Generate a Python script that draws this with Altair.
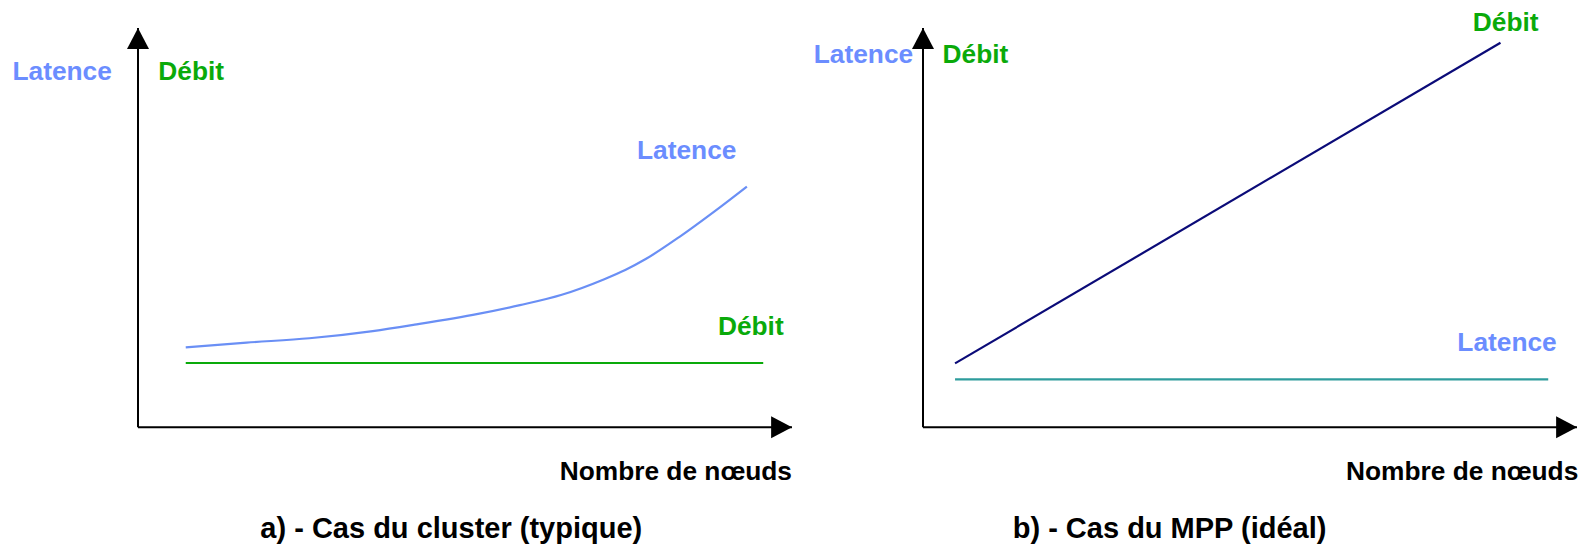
import altair as alt
import pandas as pd

FONT = "Liberation Sans"

# ---------------- data (relative units) ----------------
axis_x = [0, 10]          # x extent: nombre de nœuds
axis_y = [0, 10]          # y extent: latence / débit

# a) Cas du cluster (typique)
a_latence_x = [0.73, 1.66, 2.62, 3.59, 4.23, 5.20, 5.84, 6.48, 7.13, 7.45, 7.77, 8.28, 8.80, 9.31]
a_latence_y = [2.00, 2.12, 2.23, 2.41, 2.57, 2.84, 3.06, 3.32, 3.71, 3.94, 4.22, 4.77, 5.39, 6.03]
a_debit_x = [0.73, 9.56]
a_debit_y = [1.61, 1.61]

# b) Cas du MPP (idéal)
b_debit_x = [0.49, 8.83]
b_debit_y = [1.60, 9.63]
b_latence_x = [0.49, 9.56]
b_latence_y = [1.20, 1.20]

# texts
lbl_latence = "Latence"
lbl_debit = "Débit"
x_title = "Nombre de nœuds"
panel_titles = ["a) - Cas du cluster (typique)", "b) - Cas du MPP (idéal)"]

# annotation anchors in data units: [x, y]
a_ylab_lat = [-0.40, 8.91]
a_ylab_deb = [0.31, 8.91]
a_ann_lat = [8.39, 6.92]
a_ann_deb = [9.37, 2.52]
a_xtitle = [10.0, -1.11]
a_title = [4.79, -2.55]

b_ylab_lat = [-0.15, 9.33]
b_ylab_deb = [0.30, 9.33]
b_ann_deb = [8.91, 10.12]
b_ann_lat = [8.93, 2.11]
b_xtitle = [10.02, -1.11]
b_title = [3.77, -2.55]

# ---------------- styles ----------------
BLUE_TXT = "#6B8DFF"
BLUE_LINE = "#6A8FF5"
GREEN = "#0AAA0A"
NAVY = "#0B0B78"
TEAL = "#2E9C9C"

W, H = 785, 534
XS = alt.Scale(domain=axis_x, range=[130, 784])
YS = alt.Scale(domain=axis_y, range=[419.3, 20])


def X(f):
    return alt.X(f, type="quantitative", scale=XS, axis=None)


def Y(f):
    return alt.Y(f, type="quantitative", scale=YS, axis=None)


def line(xs, ys, color, sw=2.2):
    df = pd.DataFrame({"x": xs, "y": ys})
    return alt.Chart(df).mark_line(color=color, strokeWidth=sw, interpolate="monotone").encode(
        x=X("x"), y=Y("y"))


def axes():
    df = pd.DataFrame({"x0": [axis_x[0]], "x1": [axis_x[1]], "y0": [axis_y[0]], "y1": [axis_y[1]]})
    base = alt.Chart(df)
    yrule = base.mark_rule(color="black", strokeWidth=2).encode(x=X("x0"), y=Y("y0"), y2="y1")
    xrule = base.mark_rule(color="black", strokeWidth=2).encode(x=X("x0"), x2="x1", y=Y("y0"))
    up = base.mark_point(shape="M0,0L-1,1.9L1,1.9Z", size=484, filled=True, color="black",
                         opacity=1, strokeWidth=0).encode(x=X("x0"), y=Y("y1"))
    right = base.mark_point(shape="M0,0L-1.9,-1L-1.9,1Z", size=484, filled=True, color="black",
                            opacity=1, strokeWidth=0).encode(x=X("x1"), y=Y("y0"))
    return [yrule, xrule, up, right]


def text(pos, label, color, size, align):
    df = pd.DataFrame({"x": [pos[0]], "y": [pos[1]], "t": [label]})
    return alt.Chart(df).mark_text(font=FONT, fontWeight="bold", fontSize=size, align=align,
                                   baseline="middle", color=color).encode(
        x=X("x"), y=Y("y"), text="t:N")


LS = 26.3   # label size
XT = 26.3   # x title size
TS = 29     # panel title size

panel_a = alt.layer(
    *axes(),
    line(a_debit_x, a_debit_y, GREEN),
    line(a_latence_x, a_latence_y, BLUE_LINE),
    text(a_ylab_lat, lbl_latence, BLUE_TXT, LS, "right"),
    text(a_ylab_deb, lbl_debit, GREEN, LS, "left"),
    text(a_ann_lat, lbl_latence, BLUE_TXT, LS, "center"),
    text(a_ann_deb, lbl_debit, GREEN, LS, "center"),
    text(a_xtitle, x_title, "black", XT, "right"),
    text(a_title, panel_titles[0], "black", TS, "center"),
).properties(width=W, height=H)

panel_b = alt.layer(
    *axes(),
    line(b_latence_x, b_latence_y, TEAL),
    line(b_debit_x, b_debit_y, NAVY),
    text(b_ylab_lat, lbl_latence, BLUE_TXT, LS, "right"),
    text(b_ylab_deb, lbl_debit, GREEN, LS, "left"),
    text(b_ann_deb, lbl_debit, GREEN, LS, "center"),
    text(b_ann_lat, lbl_latence, BLUE_TXT, LS, "center"),
    text(b_xtitle, x_title, "black", XT, "right"),
    text(b_title, panel_titles[1], "black", TS, "center"),
).properties(width=W, height=H)

chart = alt.hconcat(panel_a, panel_b, spacing=0, bounds="flush").properties(
    padding=0, background="white"
).configure_view(stroke=None)

chart.save("out.html", embed_options={"renderer": "svg", "actions": False})
